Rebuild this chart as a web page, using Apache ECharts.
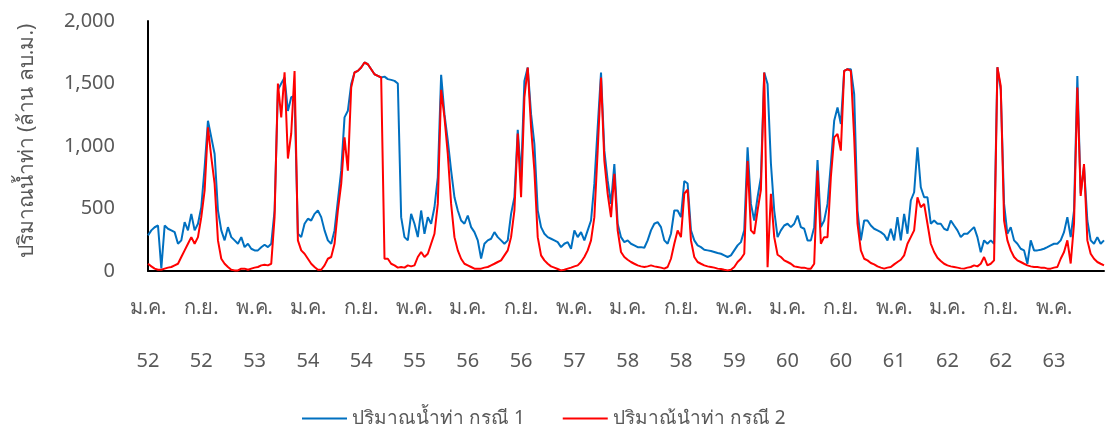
<!DOCTYPE html>
<html>
<head>
<meta charset="utf-8">
<script src="https://cdn.jsdelivr.net/npm/echarts@6/dist/echarts.min.js"></script>
<style>
html, body { margin: 0; padding: 0; background: #fff; }
#chart { width: 1107px; height: 439px; }
</style>
</head>
<body>
<div id="chart"></div>
<script>
// half-month steps, ม.ค. 52 .. ธ.ค. 63
var monthNames = ['ม.ค.', 'ก.พ.', 'มี.ค.', 'เม.ย.', 'พ.ค.', 'มิ.ย.', 'ก.ค.', 'ส.ค.', 'ก.ย.', 'ต.ค.', 'พ.ย.', 'ธ.ค.']
var years = [52, 53, 54, 55, 56, 57, 58, 59, 60, 61, 62, 63]
var yTicks = [0, 500, 1000, 1500, 2000]

// ปริมาณน้ำท่า กรณี 1 (ล้าน ลบ.ม.)
var flowCase1 = [
	285, 325, 350, 364, 20, 364, 338, 325, 311, 218,
	245, 391, 325, 457, 325, 378, 510, 830, 1202, 1069,
	936, 484, 325, 245, 351, 271, 245, 218, 271, 191,
	218, 178, 165, 165, 190, 210, 191, 218, 484, 1450,
	1500, 1548, 1280, 1390, 1400, 298, 271, 378, 418, 404,
	457, 484, 431, 325, 245, 218, 325, 564, 803, 1229,
	1282, 1495, 1588, 1601, 1628, 1668, 1654, 1614, 1574, 1561,
	1548, 1555, 1535, 1529, 1521, 1500, 431, 271, 245, 457,
	378, 271, 484, 298, 431, 378, 510, 750, 1570, 1255,
	1043, 803, 590, 484, 404, 378, 444, 351, 311, 245,
	100, 218, 245, 258, 311, 271, 245, 218, 245, 457,
	590, 1130, 750, 1521, 1628, 1255, 1016, 484, 351, 298,
	271, 258, 245, 231, 191, 218, 231, 178, 325, 271,
	311, 245, 325, 404, 697, 1149, 1588, 963, 723, 537,
	856, 378, 271, 231, 245, 218, 205, 191, 191, 186,
	245, 325, 378, 391, 351, 245, 218, 298, 484, 484,
	431, 720, 700, 325, 245, 205, 191, 170, 165, 160,
	152, 144, 138, 125, 112, 125, 165, 205, 231, 325,
	990, 537, 404, 590, 750, 1588, 1495, 862, 484, 271,
	325, 364, 378, 351, 378, 444, 351, 338, 245, 245,
	351, 888, 351, 404, 537, 856, 1202, 1308, 1176, 1601,
	1614, 1614, 1415, 484, 245, 404, 404, 364, 338, 325,
	311, 290, 245, 338, 245, 431, 245, 457, 298, 564,
	630, 990, 670, 590, 590, 378, 404, 378, 378, 338,
	325, 404, 364, 325, 271, 298, 298, 325, 351, 271,
	150, 245, 218, 245, 218, 1630, 1450, 537, 298, 351,
	245, 218, 178, 165, 58, 245, 165, 165, 170, 178,
	191, 205, 218, 218, 245, 311, 431, 271, 484, 1560,
	620, 835, 404, 245, 218, 271, 218, 245
]

// ปริมาณน้ำท่า กรณี 2 (ล้าน ลบ.ม.)
var flowCase2 = [
	58, 37, 19, 10, 10, 19, 27, 32, 45, 58,
	112, 165, 218, 271, 218, 271, 431, 644, 1149, 910,
	697, 245, 98, 58, 32, 10, 5, 5, 19, 19,
	10, 19, 27, 32, 45, 50, 45, 58, 431, 1500,
	1229, 1590, 900, 1100, 1600, 245, 165, 138, 98, 58,
	32, 10, 10, 45, 98, 112, 218, 484, 697, 1069,
	803, 1468, 1588, 1601, 1628, 1668, 1654, 1614, 1574, 1561,
	1548, 98, 98, 58, 45, 27, 32, 27, 45, 37,
	45, 112, 152, 112, 138, 218, 298, 537, 1450, 1229,
	936, 537, 271, 165, 98, 58, 45, 32, 19, 19,
	19, 27, 32, 45, 58, 72, 85, 125, 165, 271,
	484, 1100, 590, 1388, 1628, 1149, 803, 271, 125, 85,
	58, 37, 27, 16, 5, 10, 19, 27, 37, 45,
	72, 112, 165, 245, 431, 963, 1548, 883, 617, 431,
	777, 325, 152, 112, 90, 72, 58, 45, 37, 32,
	37, 45, 37, 32, 27, 19, 32, 98, 218, 325,
	271, 620, 650, 245, 112, 72, 58, 45, 37, 32,
	27, 19, 16, 10, 5, 10, 32, 72, 98, 138,
	880, 325, 298, 484, 650, 1588, 30, 617, 271, 130,
	112, 85, 72, 58, 37, 32, 27, 27, 19, 19,
	58, 803, 218, 271, 271, 750, 1069, 1096, 963, 1601,
	1614, 1601, 1069, 378, 165, 98, 85, 64, 53, 37,
	27, 19, 27, 32, 53, 72, 90, 125, 218, 271,
	325, 590, 510, 537, 378, 218, 152, 106, 80, 58,
	45, 37, 32, 27, 21, 19, 27, 32, 45, 37,
	58, 112, 45, 58, 85, 1630, 1480, 404, 245, 165,
	112, 85, 72, 58, 45, 37, 32, 32, 27, 27,
	19, 19, 27, 32, 98, 152, 245, 60, 378, 1468,
	600, 856, 245, 138, 98, 72, 58, 45
]

var periods = []
years.forEach(function (y) {
	monthNames.forEach(function (m) {
		periods.push(m + ' ' + y + '|1')
		periods.push(m + ' ' + y + '|2')
	})
})

var font = '"Noto Sans", "Open Sans", sans-serif'
var textGray = '#595959'
var chart = echarts.init(document.getElementById('chart'))

var options = {
	animation: false,
	textStyle: { fontFamily: font },
	grid: { left: 148, right: 3, top: 21, bottom: 168, containLabel: false },
	legend: {
		left: 297,
		top: 404,
		icon: 'rect',
		itemWidth: 45,
		itemHeight: 2,
		itemGap: 38,
		textStyle: { fontSize: 19, color: textGray, fontFamily: font },
		data: ['ปริมาณน้ำท่า กรณี 1', 'ปริมาณ้นำท่า กรณี 2'],
	},
	xAxis: {
		type: 'category',
		boundaryGap: false,
		data: periods,
		axisLine: { lineStyle: { color: '#000', width: 2 } },
		axisTick: { show: false },
		splitLine: { show: false },
		axisLabel: {
			interval: 15,
			margin: 11,
			fontSize: 20,
			lineHeight: 53,
			color: textGray,
			formatter: function (value) {
				var p = value.split('|')[0].split(' ')
				return p[0] + '\n' + p[1]
			},
		},
	},
	yAxis: {
		type: 'value',
		min: yTicks[0],
		max: yTicks[yTicks.length - 1],
		interval: 500,
		name: 'ปริมาณน้ำท่า (ล้าน ลบ.ม.)',
		nameLocation: 'middle',
		nameGap: 110,
		nameTextStyle: { fontSize: 21, color: textGray, fontFamily: font, padding: [0, 0, 0, 10] },
		axisLine: { show: true, lineStyle: { color: '#000', width: 2 } },
		axisTick: { show: false },
		splitLine: { show: false },
		axisLabel: {
			fontSize: 20,
			margin: 33,
			color: textGray,
			formatter: function (v) {
				return v.toLocaleString('en-US')
			},
		},
	},
	series: [
		{
			name: 'ปริมาณน้ำท่า กรณี 1',
			type: 'line',
			data: flowCase1,
			symbol: 'none',
			color: '#0070C0',
			lineStyle: { width: 2, color: '#0070C0' },
		},
		{
			name: 'ปริมาณ้นำท่า กรณี 2',
			type: 'line',
			data: flowCase2,
			symbol: 'none',
			color: '#FF0000',
			lineStyle: { width: 2, color: '#FF0000' },
		},
	],
}
chart.setOption(options)
</script>
</body>
</html>
